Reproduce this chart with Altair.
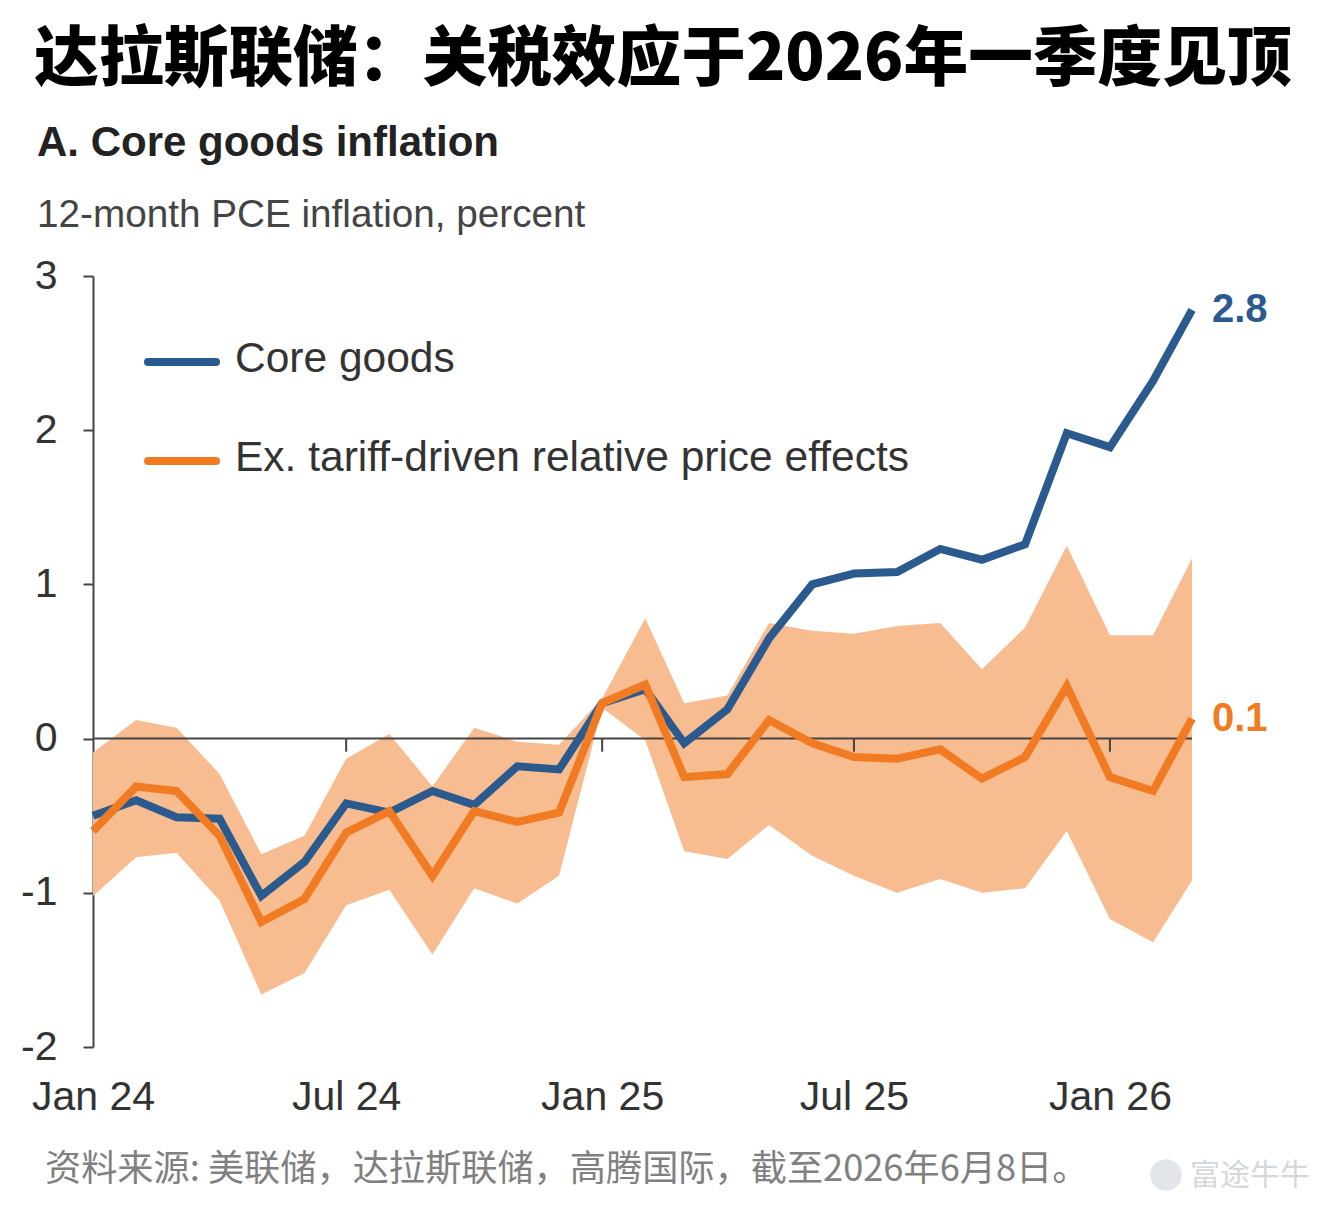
import altair as alt
import pandas as pd

# Monthly observations, Jan 2024 – Mar 2026
months = pd.date_range("2024-01-01", periods=27, freq="MS")

core_goods = [-0.50, -0.40, -0.51, -0.52, -1.02, -0.80, -0.42, -0.48, -0.34, -0.43,
              -0.18, -0.20, 0.23, 0.32, -0.03, 0.19, 0.65, 1.00, 1.07, 1.08,
              1.23, 1.16, 1.26, 1.98, 1.89, 2.32, 2.78]
ex_tariff = [-0.60, -0.31, -0.34, -0.63, -1.19, -1.04, -0.61, -0.47, -0.89, -0.47,
             -0.54, -0.48, 0.23, 0.35, -0.25, -0.23, 0.12, -0.03, -0.12, -0.13,
             -0.07, -0.26, -0.12, 0.34, -0.25, -0.34, 0.13]
band_high = [-0.09, 0.12, 0.07, -0.23, -0.75, -0.63, -0.13, 0.03, -0.31, 0.07,
             -0.02, -0.04, 0.26, 0.78, 0.23, 0.28, 0.75, 0.70, 0.68, 0.73,
             0.75, 0.45, 0.72, 1.25, 0.67, 0.67, 1.17]
band_low = [-1.02, -0.77, -0.74, -1.05, -1.66, -1.52, -1.08, -0.98, -1.40, -0.97,
            -1.07, -0.89, 0.20, -0.01, -0.73, -0.78, -0.56, -0.76, -0.89, -1.00,
            -0.91, -1.00, -0.97, -0.60, -1.17, -1.32, -0.92]

tick_dates = ["2024-07-01", "2025-01-01", "2025-07-01", "2026-01-01"]
axis_dates = [alt.DateTime(year=2024, month=1, date=1), alt.DateTime(year=2024, month=7, date=1),
              alt.DateTime(year=2025, month=1, date=1), alt.DateTime(year=2025, month=7, date=1),
              alt.DateTime(year=2026, month=1, date=1)]
y_ticks = [-2, -1, 0, 1, 2, 3]

BLUE = "#2b5a8e"
ORANGE = "#f07b22"
BAND = "#f7bc90"
FONT = "Liberation Sans"
CJK = "Noto Sans CJK SC"

df = pd.DataFrame({
    "month": months,
    "core": core_goods,
    "ex": ex_tariff,
    "hi": band_high,
    "lo": band_low,
})

x_scale = alt.Scale(domain=[alt.DateTime(year=2024, month=1, date=1),
                            alt.DateTime(year=2026, month=3, date=1)], nice=False)
y_scale = alt.Scale(domain=[-2, 3], nice=False)

x_enc = alt.X("month:T", scale=x_scale, title=None,
              axis=alt.Axis(values=axis_dates, format="%b %y", domain=False, ticks=False,
                            grid=False, labelFont=FONT, labelFontSize=41, labelColor="#333333",
                            labelPadding=30, labelFlush=False))

base = alt.Chart(df)

band = base.mark_area(color=BAND, opacity=1).encode(
    x=x_enc,
    y=alt.Y("lo:Q", scale=y_scale, title=None,
            axis=alt.Axis(values=y_ticks, grid=False, domainColor="#444444",
                          domainWidth=2, tickColor="#444444", tickWidth=2, tickSize=10,
                          labelExpr="'' + datum.value",
                          labelFont=FONT, labelFontSize=41, labelColor="#333333",
                          labelPadding=26)),
    y2="hi:Q",
)

zero = alt.Chart(pd.DataFrame({"v": [0]})).mark_rule(color="#444444", strokeWidth=2).encode(
    y=alt.Y("v:Q", scale=y_scale), x=alt.value(0), x2=alt.value(1099)
)

ticks = alt.Chart(pd.DataFrame({"d": pd.to_datetime(tick_dates), "a": 0, "b": -0.085})).mark_rule(
    color="#444444", strokeWidth=2
).encode(x=alt.X("d:T", scale=x_scale), y=alt.Y("a:Q", scale=y_scale), y2="b:Q")

line_core = base.mark_line(color=BLUE, strokeWidth=8, strokeJoin="miter").encode(
    x=alt.X("month:T", scale=x_scale), y=alt.Y("core:Q", scale=y_scale)
)
line_ex = base.mark_line(color=ORANGE, strokeWidth=8, strokeJoin="miter").encode(
    x=alt.X("month:T", scale=x_scale), y=alt.Y("ex:Q", scale=y_scale)
)

last = df.tail(1)
end_core = alt.Chart(last).mark_text(
    align="left", baseline="middle", dx=20, font=FONT, fontSize=40, fontWeight="bold", color=BLUE
).encode(x=alt.X("month:T", scale=x_scale), y=alt.Y("core:Q", scale=y_scale),
         text=alt.Text("core:Q", format=".1f"))
end_ex = alt.Chart(last).mark_text(
    align="left", baseline="middle", dx=20, font=FONT, fontSize=40, fontWeight="bold", color=ORANGE
).encode(x=alt.X("month:T", scale=x_scale), y=alt.Y("ex:Q", scale=y_scale),
         text=alt.Text("ex:Q", format=".1f"))


def one_row(**cols):
    return alt.Chart(pd.DataFrame({k: [v] for k, v in cols.items()}))


def legend_entry(label, color, y):
    swatch = one_row(c=color).mark_rule(color=color, strokeWidth=8, strokeCap="round").encode(
        x=alt.value(55), x2=alt.value(123), y=alt.value(y)
    )
    text = one_row(t=label).mark_text(
        align="left", baseline="middle", font=FONT, fontSize=42.5, color="#333333"
    ).encode(x=alt.value(142), y=alt.value(y - 3), text="t:N")
    return swatch + text


legend = legend_entry("Core goods", BLUE, 86) + legend_entry(
    "Ex. tariff-driven relative price effects", ORANGE, 185)


def note(text, x, y, **kw):
    return one_row(t=text).mark_text(**kw).encode(x=alt.value(x), y=alt.value(y), text="t:N")


title = note("达拉斯联储：关税效应于2026年一季度见顶", 570, -215, align="center", baseline="middle",
             font=CJK, fontSize=64.7, fontWeight=900, color="#000000")
panel = note("A. Core goods inflation", -56, -133, align="left", baseline="middle",
             font=FONT, fontSize=42, fontWeight="bold", color="#222222")
unit = note("12-month PCE inflation, percent", -56, -61, align="left", baseline="middle",
            font=FONT, fontSize=38.7, color="#444444")
source = note("资料来源: 美联储，达拉斯联储，高腾国际，截至2026年6月8日。", -48, 894, align="left",
              baseline="middle", font=CJK, fontSize=36.2, color="#808080")
brand = note("富途牛牛", 1097, 900, align="left", baseline="middle", font=CJK, fontSize=30,
             color="#d4d8dc")
brand_logo = one_row(s=1).mark_point(filled=True, shape="circle", size=1000, color="#e2e6ea",
                                     opacity=1).encode(x=alt.value(1073), y=alt.value(899))

chart = alt.layer(
    band, zero, ticks, line_core, line_ex, end_core, end_ex,
    legend, title, panel, unit, source, brand_logo, brand,
).properties(
    width=1099, height=771,
    autosize=alt.AutoSizeParams(type="none"),
    padding={"left": 93, "top": 276, "right": 135, "bottom": 165},
    background="white",
).configure_view(stroke=None)

chart.save("out.html", embed_options={"renderer": "svg", "actions": False})
